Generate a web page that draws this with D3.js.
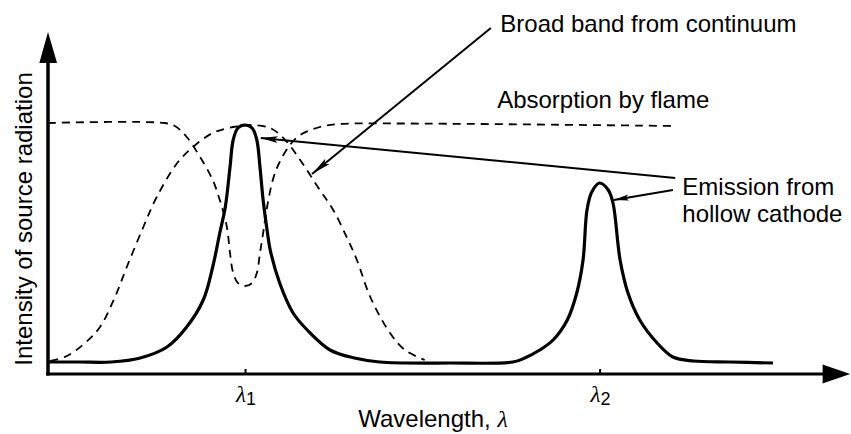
<!DOCTYPE html>
<html>
<head>
<meta charset="utf-8">
<script src="https://cdn.jsdelivr.net/npm/d3@7"></script>
<style>
  html, body { margin: 0; padding: 0; background: #fff; }
  svg { display: block; font-family: 'Liberation Sans', Arial, Helvetica, sans-serif; }
</style>
</head>
<body>
<div id="chart"></div>
<script>
// Wavelength in arbitrary units (lambda1 = 25, lambda2 = 70), intensity in % of the flat top
const emissionWl = [0, 4, 8, 11.7, 15.1, 17.6, 19.7, 20.9, 21.8, 22.5, 23.1, 23.5, 24.1, 25, 25.9, 26.5, 26.9, 27.3, 27.8, 28.2, 29.4, 31.1, 32.9, 35.8, 38.9, 42.1, 51, 59, 60.5, 62.4, 64.1, 65.9, 67.1, 67.9, 68.4, 69, 70, 71.1, 71.7, 72.6, 73.6, 75.1, 77.3, 79.3, 81.9, 86.5, 92];
const emissionI = [4.8, 4.8, 4.8, 6.4, 10.8, 18.8, 29.6, 42.8, 56.4, 66.8, 82.8, 93.6, 98.4, 99.6, 98.4, 93.6, 82.8, 69.6, 57.6, 49.6, 36.4, 24.4, 17.6, 9.6, 6.4, 4.8, 4.4, 4.8, 6.4, 9.6, 13.6, 21.6, 32.4, 45.6, 65.6, 72.8, 76.4, 73.6, 68.4, 45.6, 32.4, 21.6, 12.4, 6.8, 5.2, 4.8, 4.4];

const continuumWl = [0.3, 2.4, 4.7, 6.6, 8.5, 10.0, 12.1, 13.8, 16.4, 18.4, 20.9, 23.5, 25.6, 28.2, 30.1, 32.0, 34.5, 36.2, 37.9, 39.2, 40.9, 43.4, 45.3, 47.8];
const continuumI = [5.2, 7.2, 12.4, 18.8, 30.8, 42.8, 58.8, 70.8, 84.4, 90.8, 96.4, 98.8, 99.6, 98.4, 93.6, 85.6, 73.6, 65.6, 54.8, 45.6, 30.8, 16.4, 9.6, 5.6];

const absorptionWl = [0, 14.8, 16.1, 17.6, 19.3, 20.9, 21.8, 22.7, 23.1, 23.5, 24.1, 25, 25.9, 26.5, 26.9, 27.3, 27.8, 28.6, 29.4, 30.7, 32, 34.5, 37.1, 44.7, 79.8];
const absorptionI = [100.4, 100.4, 99.2, 94.8, 86.8, 77.6, 69.6, 58.8, 48.4, 40.4, 36.4, 35.2, 36.4, 40.4, 48.4, 56.4, 66.8, 78.4, 84.8, 91.6, 95.6, 98.8, 100, 100.2, 99.2];

const tickValues = [25, 70];
const tickNames = ['1', '2'];

// annotation leaders: [fromWl, fromI, tipWl, tipI]
const leaderBroad = [56.2, 138.4, 33.5, 80];
const leaderEm1 = [79.6, 78.4, 27.0, 94.4];
const leaderEm2 = [79.3, 73.6, 71.8, 69.6];

const labelBroad = { wl: 57.4, i: 136.8, text: 'Broad band from continuum' };
const labelAbs = { wl: 57.0, i: 106.4, text: 'Absorption by flame' };
const labelEm = { wl: 80.5, i: 71.6, lines: ['Emission from', 'hollow cathode'] };

const xLabel = 'Wavelength, ';
const yLabel = 'Intensity of source radiation';

const width = 851, height = 434;
const FONT = '24px';

const svg = d3.select('#chart').append('svg')
  .attr('width', width)
  .attr('height', height);

const x = d3.scaleLinear().domain([0, 100]).range([48, 836]);
const y = d3.scaleLinear().domain([0, 100]).range([374, 124]);

const line = d3.line()
  .x(d => x(d[0]))
  .y(d => y(d[1]))
  .curve(d3.curveCatmullRom.alpha(0.5));

// axes
svg.append('line')
  .attr('x1', x(0)).attr('x2', x(0))
  .attr('y1', y(-0.6)).attr('y2', y(125))
  .attr('stroke', '#000').attr('stroke-width', 3.5);
svg.append('path')
  .attr('d', `M${x(-1.1)},${y(124.4)} L${x(0)},${y(136.8)} L${x(1.15)},${y(124.4)} Z`)
  .attr('fill', '#000');

svg.append('line')
  .attr('x1', x(-0.25)).attr('x2', x(98.5))
  .attr('y1', y(0)).attr('y2', y(0))
  .attr('stroke', '#000').attr('stroke-width', 3.2);
svg.append('path')
  .attr('d', `M${x(98.3)},${y(-3.8)} L${x(101.8)},${y(0)} L${x(98.3)},${y(3.8)} Z`)
  .attr('fill', '#000');

const xAxis = svg.append('g')
  .attr('transform', `translate(0,${y(0)})`)
  .call(d3.axisBottom(x).tickValues(tickValues).tickSize(-5).tickFormat(() => ''));
xAxis.select('.domain').remove();
xAxis.selectAll('.tick line').attr('stroke', '#000').attr('stroke-width', 2);

tickValues.forEach((v, i) => {
  const t = svg.append('text')
    .attr('x', x(v) - 9)
    .attr('y', 402)
    .style('font-size', '23px');
  t.append('tspan')
    .style('font-family', "'Liberation Serif', 'DejaVu Serif', serif")
    .style('font-style', 'italic')
    .text('\u03bb');
  t.append('tspan')
    .attr('dy', 3)
    .style('font-size', '18px')
    .text(tickNames[i]);
});

const xl = svg.append('text')
  .attr('x', 433)
  .attr('y', 427)
  .attr('text-anchor', 'middle')
  .style('font-size', FONT)
  .text(xLabel);
xl.append('tspan')
  .style('font-family', "'Liberation Serif', 'DejaVu Serif', serif")
  .style('font-style', 'italic')
  .text('\u03bb');

svg.append('text')
  .attr('transform', `translate(32,${219}) rotate(-90)`)
  .attr('text-anchor', 'middle')
  .style('font-size', FONT)
  .text(yLabel);

// curves
const dash = '8,6';
svg.append('path')
  .datum(continuumWl.map((w, i) => [w, continuumI[i]]))
  .attr('fill', 'none')
  .attr('stroke', '#000')
  .attr('stroke-width', 1.8)
  .attr('stroke-dasharray', dash)
  .attr('d', line);

svg.append('path')
  .datum(absorptionWl.map((w, i) => [w, absorptionI[i]]))
  .attr('fill', 'none')
  .attr('stroke', '#000')
  .attr('stroke-width', 1.8)
  .attr('stroke-dasharray', dash)
  .attr('d', line);

svg.append('path')
  .datum(emissionWl.map((w, i) => [w, emissionI[i]]))
  .attr('fill', 'none')
  .attr('stroke', '#000')
  .attr('stroke-width', 3.2)
  .attr('stroke-linejoin', 'round')
  .attr('d', line);

// leaders with slender filled arrowheads
function leader(l, headLen, headHalf) {
  const x1 = x(l[0]), y1 = y(l[1]), x2 = x(l[2]), y2 = y(l[3]);
  svg.append('line')
    .attr('x1', x1).attr('y1', y1).attr('x2', x2).attr('y2', y2)
    .attr('stroke', '#000').attr('stroke-width', 2);
  const dx = x1 - x2, dy = y1 - y2;
  const len = Math.hypot(dx, dy);
  const ux = dx / len, uy = dy / len;
  const bx = x2 + ux * headLen, by = y2 + uy * headLen;
  const nx = -uy * headHalf, ny = ux * headHalf;
  svg.append('path')
    .attr('d', `M${x2},${y2} L${bx + nx},${by + ny} L${x2 + ux * headLen * 0.8},${y2 + uy * headLen * 0.8} L${bx - nx},${by - ny} Z`)
    .attr('fill', '#000');
}
leader(leaderBroad, 20, 3.5);
leader(leaderEm1, 17, 3.5);
leader(leaderEm2, 15, 3);

svg.append('text')
  .attr('x', x(labelBroad.wl)).attr('y', y(labelBroad.i))
  .style('font-size', FONT)
  .text(labelBroad.text);

svg.append('text')
  .attr('x', x(labelAbs.wl)).attr('y', y(labelAbs.i))
  .style('font-size', FONT)
  .text(labelAbs.text);

labelEm.lines.forEach((s, i) => {
  svg.append('text')
    .attr('x', x(labelEm.wl)).attr('y', y(labelEm.i) + i * 27)
    .style('font-size', FONT)
    .text(s);
});
</script>
</body>
</html>
